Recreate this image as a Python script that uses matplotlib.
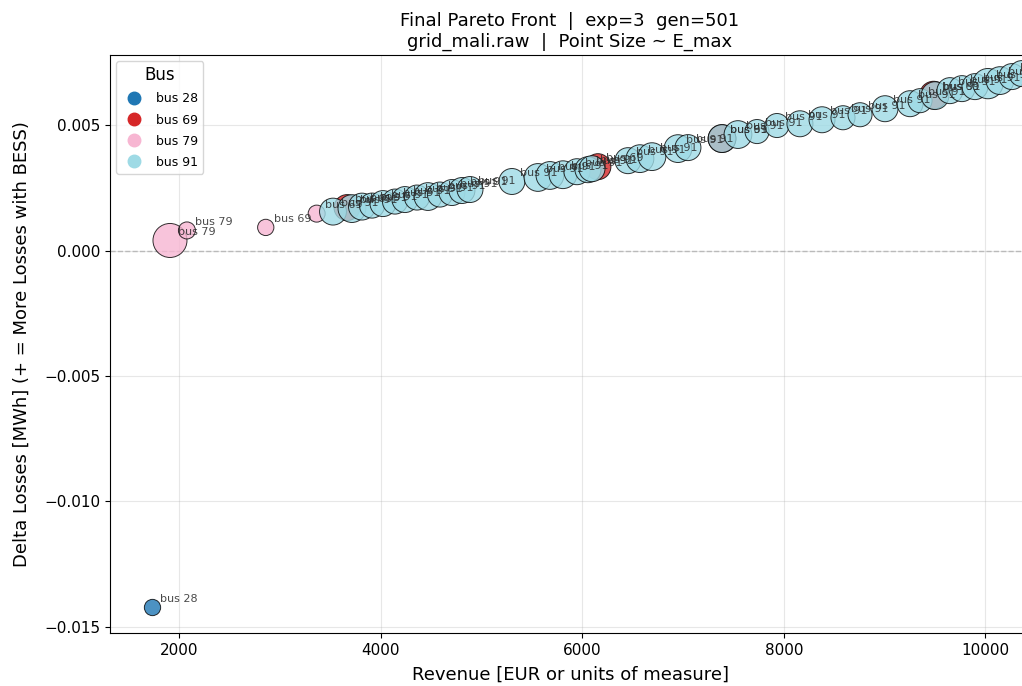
import numpy as np
import matplotlib
matplotlib.use('Agg')
import matplotlib.pyplot as plt
from matplotlib.lines import Line2D

# Pareto front points
revenue = [1733, 1911, 2079, 2861, 3366,
           3667, 6156, 7387, 9485,
           3528, 3716, 3815, 3915, 4024, 4143, 4242, 4361, 4470, 4589,
           4708, 4807, 4887, 5303, 5561, 5680, 5809, 5948, 6057, 6097,
           6454, 6573, 6692, 6950, 7049, 7387, 7545, 7734, 7932, 8160,
           8379, 8587, 8756, 9004, 9252, 9351, 9500, 9648, 9767, 9896,
           10025, 10144, 10263, 10362]
delta_losses = [-0.01422, 0.00040, 0.00080, 0.00092, 0.00147,
                0.00171, 0.00334, 0.00446, 0.00619,
                0.00155, 0.00167, 0.00175, 0.00179, 0.00187, 0.00195, 0.00203, 0.00211, 0.00215, 0.00223,
                0.00231, 0.00239, 0.00243, 0.00275, 0.00291, 0.00299, 0.00302, 0.00314, 0.00322, 0.00326,
                0.00358, 0.00366, 0.00374, 0.00406, 0.00410, 0.00446, 0.00462, 0.00474, 0.00498, 0.00505,
                0.00521, 0.00529, 0.00541, 0.00565, 0.00585, 0.00597, 0.00617, 0.00637, 0.00645, 0.00653,
                0.00665, 0.00677, 0.00693, 0.00705]
e_max = [0.55, 2.4, 0.6, 0.55, 0.6,
         1.4, 1.4, 1.6, 1.6,
         1.5, 1.6, 1.5, 1.3, 1.4, 1.3, 1.4, 1.3, 1.6, 1.3,
         1.4, 1.4, 1.4, 1.4, 1.6, 1.6, 1.6, 1.4, 1.4, 1.4,
         1.4, 1.6, 1.6, 1.6, 1.4, 1.6, 1.6, 1.2, 1.2, 1.4,
         1.4, 1.2, 1.2, 1.4, 1.4, 1.2, 1.6, 1.4, 1.4, 1.4,
         1.9, 1.6, 1.4, 1.4]
bus = [28, 79, 79, 79, 79,
       69, 69, 69, 69] + [91] * 44
tag_bus = [28, 79, 79, 69, 69,
           69, 69, 69, 69] + [91] * 44

bus_ids = [28, 69, 79, 91]
bus_colors = ['#1f77b4', '#d62728', '#f7b6d2', '#9edae5']

revenue = np.array(revenue)
delta_losses = np.array(delta_losses)
e_max = np.array(e_max)
bus = np.array(bus)

fig = plt.figure(figsize=(10.22, 6.86), dpi=100)
ax = fig.add_axes([110 / 1022, 53 / 686, 920 / 1022, 578 / 686])

# one scatter per bus, blue drawn last
for b, c in zip(bus_ids, bus_colors):
    m = bus == b
    ax.scatter(revenue[m], delta_losses[m], s=e_max[m] * 250, c=c,
               alpha=0.8, edgecolors='black', linewidths=0.7, zorder=3)

for x, y, t in zip(revenue, delta_losses, tag_bus):
    ax.annotate(f'bus {t}', (x, y), xytext=(6, 4), textcoords='offset points',
                fontsize=8, color='#2a2a2a', alpha=0.85, zorder=4)

ax.axhline(0, color='grey', linestyle='--', linewidth=1, alpha=0.5, zorder=1)
ax.grid(True, alpha=0.3)
ax.set_xlim(1316, 10442)
ax.set_ylim(-0.01524, 0.00779)
ax.set_xticks([2000, 4000, 6000, 8000, 10000])
ax.set_yticks([-0.015, -0.010, -0.005, 0.000, 0.005])
ax.tick_params(labelsize=11)
ax.spines['right'].set_visible(False)

ax.set_xlabel('Revenue [EUR or units of measure]', fontsize=13, labelpad=6)
ax.set_ylabel('Delta Losses [MWh] (+ = More Losses with BESS)', fontsize=13, labelpad=10)
ax.set_title('Final Pareto Front  |  exp=3  gen=501\ngrid_mali.raw  |  Point Size ~ E_max', fontsize=13)

handles = [Line2D([0], [0], marker='o', linestyle='', color=c, markersize=9)
           for c in bus_colors]
ax.legend(handles, [f'bus {b}' for b in bus_ids], title='Bus', loc='upper left',
          fontsize=9, title_fontsize=12, labelspacing=0.65)

plt.savefig('out.png', dpi=100)
